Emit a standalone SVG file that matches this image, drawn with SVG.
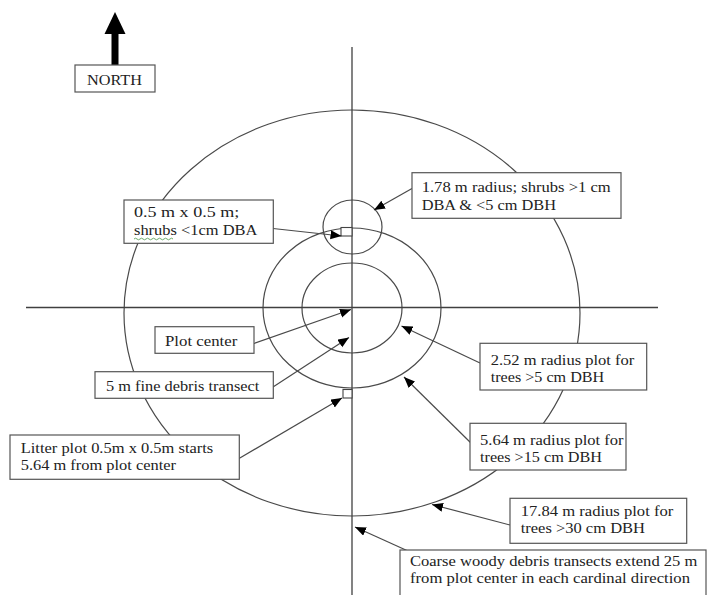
<svg xmlns="http://www.w3.org/2000/svg" width="709" height="595" viewBox="0 0 709 595">
  <style>
    .ax { stroke: #404040; stroke-width: 1.3; fill: none; }
    .ring { stroke: #4a4a4a; stroke-width: 1.2; fill: none; }
    .box { fill: #fff; stroke: #555; stroke-width: 1.2; }
    .sq { fill: #fff; stroke: #444; stroke-width: 1.1; }
    .lbl { font-family: "Liberation Serif", "Times New Roman", serif; font-size: 15px; fill: #222; }
    .con { stroke: #4a4a4a; stroke-width: 1.2; fill: none; marker-end: url(#tip); }
  </style>
  <defs>
    <marker id="tip" markerUnits="userSpaceOnUse" markerWidth="12" markerHeight="10" refX="11" refY="4.5" orient="auto">
      <path d="M0,0 L11,4.5 L0,9 z" fill="#000"/>
    </marker>
  </defs>

  <rect width="709" height="595" fill="#fff"/>

  <!-- north indicator -->
  <g id="north">
    <rect x="111.5" y="32" width="7" height="33" fill="#000"/>
    <polygon points="104.5,34 115,12 125.5,34" fill="#000"/>
    <rect class="box" x="75" y="65" width="80" height="27"/>
    <text class="lbl" x="87" y="85" textLength="55" lengthAdjust="spacingAndGlyphs">NORTH</text>
  </g>

  <!-- plot rings and axes -->
  <g id="plot">
    <ellipse class="ring" cx="352" cy="313" rx="228" ry="203"/>
    <ellipse class="ring" cx="352" cy="308" rx="89" ry="80"/>
    <ellipse class="ring" cx="352" cy="308" rx="50" ry="45"/>
    <ellipse class="ring" cx="352.5" cy="227" rx="29.5" ry="27"/>
    <line class="ax" x1="26" y1="307.5" x2="658" y2="307.5"/>
    <line class="ax" x1="352" y1="47" x2="352" y2="595"/>
    <rect class="sq" x="341" y="227.5" width="11" height="8.5"/>
    <rect class="sq" x="343" y="389.5" width="9" height="8.5"/>
  </g>

  <!-- leader lines -->
  <g id="connectors">
    <line class="con" x1="412" y1="188.5" x2="374" y2="210"/>
    <line class="con" x1="273" y1="228.5" x2="341.5" y2="236"/>
    <line class="con" x1="254" y1="343.5" x2="351" y2="309.5"/>
    <line class="con" x1="273" y1="387" x2="349" y2="337.5"/>
    <line class="con" x1="239" y1="458.5" x2="342" y2="398"/>
    <line class="con" x1="480" y1="363" x2="401.5" y2="326"/>
    <line class="con" x1="474" y1="446" x2="404" y2="377"/>
    <line class="con" x1="510" y1="525" x2="432" y2="504.5"/>
    <line class="con" x1="408" y1="551" x2="355" y2="527"/>
  </g>

  <g id="n-shrub-circle">
    <rect class="box" x="412" y="172.7" width="209" height="45.6"/>
    <text class="lbl" x="421.7" y="191.7" textLength="189" lengthAdjust="spacingAndGlyphs">1.78 m radius; shrubs &gt;1 cm</text>
    <text class="lbl" x="421.7" y="210" textLength="134.3" lengthAdjust="spacingAndGlyphs">DBA &amp; &lt;5 cm DBH</text>
  </g>

  <g id="n-shrub-quadrat">
    <rect class="box" x="124" y="200" width="149.3" height="43.3"/>
    <text class="lbl" x="134" y="216.7" textLength="105.3" lengthAdjust="spacingAndGlyphs">0.5 m x 0.5 m;</text>
    <text class="lbl" x="134" y="235" textLength="123.3" lengthAdjust="spacingAndGlyphs">shrubs &lt;1cm DBA</text>
    <path d="M134,239 q1.5,-1.6 3,0 t3,0 t3,0 t3,0 t3,0 t3,0 t3,0 t3,0 t3,0 t3,0 t3,0 t3,0 t3,0" fill="none" stroke="#5aa05a" stroke-width="0.9"/>
  </g>

  <g id="n-plot-center">
    <rect class="box" x="155" y="326.7" width="99" height="26.6"/>
    <text class="lbl" x="165" y="346" textLength="72.3" lengthAdjust="spacingAndGlyphs">Plot center</text>
  </g>

  <g id="n-fine-debris">
    <rect class="box" x="95" y="371.7" width="178.3" height="26.6"/>
    <text class="lbl" x="106" y="390.7" textLength="153.3" lengthAdjust="spacingAndGlyphs">5 m fine debris transect</text>
  </g>

  <g id="n-litter">
    <rect class="box" x="10" y="435" width="229.3" height="44.3"/>
    <text class="lbl" x="20.7" y="453.3" textLength="192.6" lengthAdjust="spacingAndGlyphs">Litter plot 0.5m x 0.5m starts</text>
    <text class="lbl" x="20.7" y="470" textLength="155.3" lengthAdjust="spacingAndGlyphs">5.64 m from plot center</text>
  </g>

  <g id="n-r252">
    <rect class="box" x="480" y="343.3" width="166.7" height="46.7"/>
    <text class="lbl" x="490.7" y="365" textLength="143.6" lengthAdjust="spacingAndGlyphs">2.52 m radius plot for</text>
    <text class="lbl" x="490.7" y="381.7" textLength="113.6" lengthAdjust="spacingAndGlyphs">trees &gt;5 cm DBH</text>
  </g>

  <g id="n-r564">
    <rect class="box" x="470" y="423.3" width="156" height="46.7"/>
    <text class="lbl" x="480" y="445" textLength="143.6" lengthAdjust="spacingAndGlyphs">5.64 m radius plot for</text>
    <text class="lbl" x="480" y="461.7" textLength="122" lengthAdjust="spacingAndGlyphs">trees &gt;15 cm DBH</text>
  </g>

  <g id="n-r1784">
    <rect class="box" x="510" y="498.3" width="176.7" height="45"/>
    <text class="lbl" x="520.7" y="515.7" textLength="152.6" lengthAdjust="spacingAndGlyphs">17.84 m radius plot for</text>
    <text class="lbl" x="520.7" y="533.3" textLength="124.3" lengthAdjust="spacingAndGlyphs">trees &gt;30 cm DBH</text>
  </g>

  <g id="n-coarse">
    <rect class="box" x="400" y="550" width="306" height="50"/>
    <text class="lbl" x="410" y="566" textLength="287.3" lengthAdjust="spacingAndGlyphs">Coarse woody debris transects extend 25 m</text>
    <text class="lbl" x="410" y="583" textLength="280" lengthAdjust="spacingAndGlyphs">from plot center in each cardinal direction</text>
  </g>
</svg>
